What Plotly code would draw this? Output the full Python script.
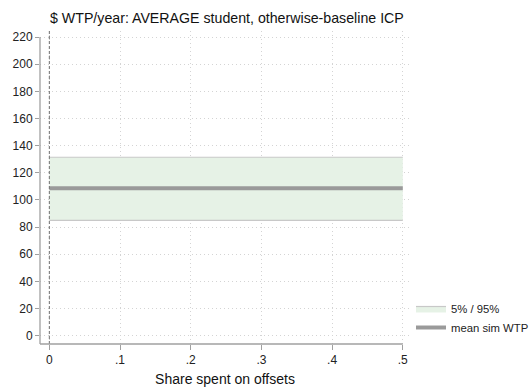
import plotly.graph_objects as go

# Share of spending on offsets and simulated WTP ($/year)
share = [0.0, 0.1, 0.2, 0.3, 0.4, 0.5]
wtp_p05 = [85.0, 85.0, 85.0, 85.0, 85.0, 85.0]
wtp_p95 = [131.5, 131.5, 131.5, 131.5, 131.5, 131.5]
wtp_mean = [108.6, 108.6, 108.6, 108.6, 108.6, 108.6]

x_ticks = [0, 0.1, 0.2, 0.3, 0.4, 0.5]
x_ticklabels = ["0", ".1", ".2", ".3", ".4", ".5"]
y_ticks = list(range(0, 221, 20))

chart_title = "$ WTP/year: AVERAGE student, otherwise-baseline ICP"

FONT = "Liberation Sans, Arial, sans-serif"
AXIS_GRAY = "#a0a0a0"
GRID = "#d4d4d4"

fig = go.Figure()

# 5th–95th percentile band
fig.add_trace(go.Scatter(
    x=share, y=wtp_p05, mode="lines",
    line=dict(color="#c8c8c8", width=1.2),
    showlegend=False, hoverinfo="skip",
))
fig.add_trace(go.Scatter(
    x=share, y=wtp_p95, mode="lines",
    line=dict(color="#c8c8c8", width=1.2),
    fill="tonexty", fillcolor="#e6f2e6",
    name="5% / 95%",
))
# Mean simulated WTP
fig.add_trace(go.Scatter(
    x=share, y=wtp_mean, mode="lines",
    line=dict(color="#9a9a9a", width=4),
    name="mean sim WTP",
))

shapes = [
    # reference line at zero share
    dict(type="line", xref="x", yref="paper", x0=0, x1=0, y0=0, y1=1,
         line=dict(color="#707070", width=1, dash="3px,2px")),
    # y axis line, spanning the labelled range
    dict(type="line", xref="paper", yref="y", x0=0, x1=0, y0=-6.1, y1=220,
         line=dict(color=AXIS_GRAY, width=1.3)),
    # x axis line, spanning the labelled range
    dict(type="line", xref="x", yref="paper", x0=-0.0132, x1=0.5, y0=0, y1=0,
         line=dict(color=AXIS_GRAY, width=1.3)),
]

fig.update_layout(
    width=532, height=388,
    margin=dict(l=40, r=122, t=31, b=44, autoexpand=False),
    paper_bgcolor="white", plot_bgcolor="white",
    font=dict(family=FONT, size=12, color="#222"),
    xaxis=dict(
        range=[-0.0132, 0.5102], tickvals=x_ticks, ticktext=x_ticklabels,
        showgrid=True, gridcolor=GRID, griddash="1px,3px", gridwidth=1,
        zeroline=False, showline=False, automargin=False,
        ticks="outside", ticklen=5, tickcolor=AXIS_GRAY, tickwidth=1.2,
        tickfont=dict(size=12, color="#222"),
        title=dict(text="Share spent on offsets", standoff=7,
                   font=dict(size=14, color="#111")),
    ),
    yaxis=dict(
        range=[-6.1, 224.5], tickvals=y_ticks,
        showgrid=True, gridcolor=GRID, griddash="1px,3px", gridwidth=1,
        zeroline=False, showline=False, automargin=False,
        ticks="outside", ticklen=4, tickcolor=AXIS_GRAY, tickwidth=1.2,
        tickfont=dict(size=12, color="#222"),
    ),
    legend=dict(
        x=411 / 532, xref="container", xanchor="left",
        y=1 - 318 / 388, yref="container", yanchor="middle",
        traceorder="normal",
        bgcolor="rgba(0,0,0,0)", font=dict(size=11.3, color="#222"),
        itemwidth=30, tracegroupgap=0,
    ),
    shapes=shapes,
    annotations=[dict(
        text=chart_title, showarrow=False,
        xref="paper", x=8 / 370, xanchor="left",
        yref="paper", y=1 + 13 / 313, yanchor="middle",
        font=dict(family=FONT, size=14.2, color="#111"),
    )],
)

fig.write_html("out.html")
